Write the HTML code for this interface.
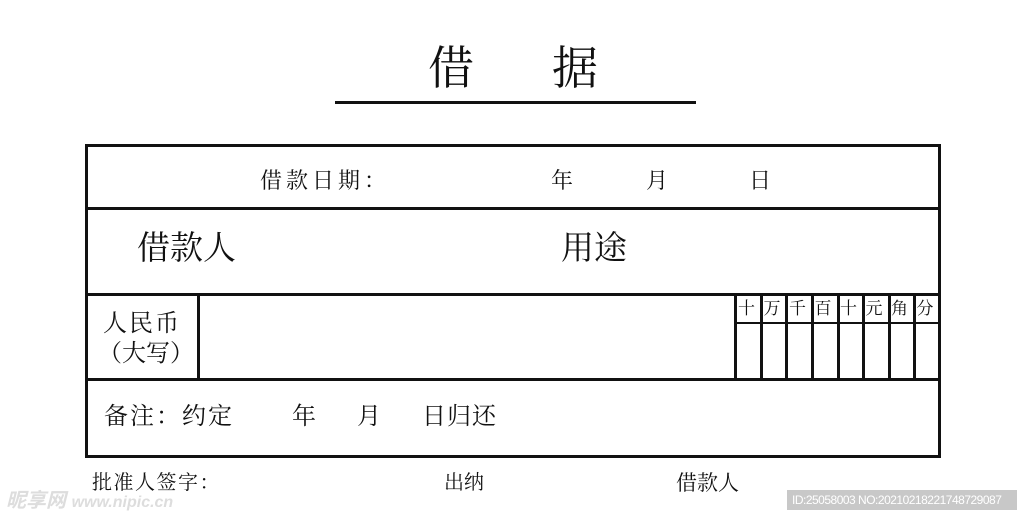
<!DOCTYPE html>
<html><head><meta charset="utf-8"><style>
body{margin:0;width:1024px;height:521px;background:#fff;position:relative;overflow:hidden;font-family:"Liberation Serif","Noto Serif CJK SC",serif;color:#111}
.a{position:absolute}
.l{position:absolute;background:#111}
.t{position:absolute;white-space:nowrap;line-height:1}
</style></head><body>
<div class="t" style="left:428px;top:46px;font-size:46px">借</div>
<div class="t" style="left:552px;top:46px;font-size:46px">据</div>
<div class="l" style="left:335px;top:101px;width:361px;height:3px"></div>

<div class="a" style="left:85px;top:144px;width:850px;height:308px;border:3px solid #111"></div>
<div class="l" style="left:85px;top:207px;width:855px;height:3px"></div>
<div class="l" style="left:85px;top:293px;width:855px;height:3px"></div>
<div class="l" style="left:85px;top:378px;width:855px;height:3px"></div>
<div class="l" style="left:197px;top:293px;width:3px;height:87px"></div>
<div class="l" style="left:735px;top:322px;width:205px;height:2px"></div>
<div class="l" style="left:734px;top:293px;width:3px;height:87px"></div>
<div class="l" style="left:760px;top:293px;width:3px;height:87px"></div>
<div class="l" style="left:785px;top:293px;width:3px;height:87px"></div>
<div class="l" style="left:811px;top:293px;width:3px;height:87px"></div>
<div class="l" style="left:837px;top:293px;width:3px;height:87px"></div>
<div class="l" style="left:862px;top:293px;width:3px;height:87px"></div>
<div class="l" style="left:888px;top:293px;width:3px;height:87px"></div>
<div class="l" style="left:913px;top:293px;width:3px;height:87px"></div>

<div class="t" style="left:260px;top:170px;font-size:22px;letter-spacing:4px">借款日期：</div>
<div class="t" style="left:551px;top:170px;font-size:22px">年</div>
<div class="t" style="left:646px;top:170px;font-size:22px">月</div>
<div class="t" style="left:749px;top:170px;font-size:22px">日</div>
<div class="t" style="left:137px;top:233px;font-size:33px">借款人</div>
<div class="t" style="left:561px;top:233px;font-size:33px">用途</div>
<div class="t" style="left:103px;top:312px;font-size:24px;letter-spacing:2px">人民币</div>
<div class="t" style="left:98px;top:342px;font-size:24px">（大写）</div>
<div class="t" style="left:738px;top:300px;font-size:17px;letter-spacing:8.5px">十万千百十元角分</div>
<div class="t" style="left:104px;top:405px;font-size:24px;letter-spacing:2px">备注：约定</div>
<div class="t" style="left:292px;top:405px;font-size:24px">年</div>
<div class="t" style="left:357px;top:405px;font-size:24px">月</div>
<div class="t" style="left:422px;top:405px;font-size:24px;letter-spacing:1px">日归还</div>

<div class="t" style="left:92px;top:473px;font-size:20px;letter-spacing:1.5px">批准人签字：</div>
<div class="t" style="left:444px;top:473px;font-size:20px">出纳</div>
<div class="t" style="left:676px;top:473px;font-size:21px">借款人</div>
<div class="t" style="left:6px;top:491px;font-size:20px;color:#ddd;font-family:'Liberation Sans','Noto Sans CJK SC',sans-serif;font-style:italic;font-weight:bold">昵享网 <span style="font-size:16px">www.nipic.cn</span></div>
<div class="a" style="left:787px;top:490px;width:230px;height:20px;background:#c8c8c8"></div>
<div class="t" style="left:792px;top:494px;font-size:12px;color:#fff;font-family:'Liberation Sans',sans-serif;letter-spacing:-0.5px">ID:25058003 NO:20210218221748729087</div>
</body></html>
